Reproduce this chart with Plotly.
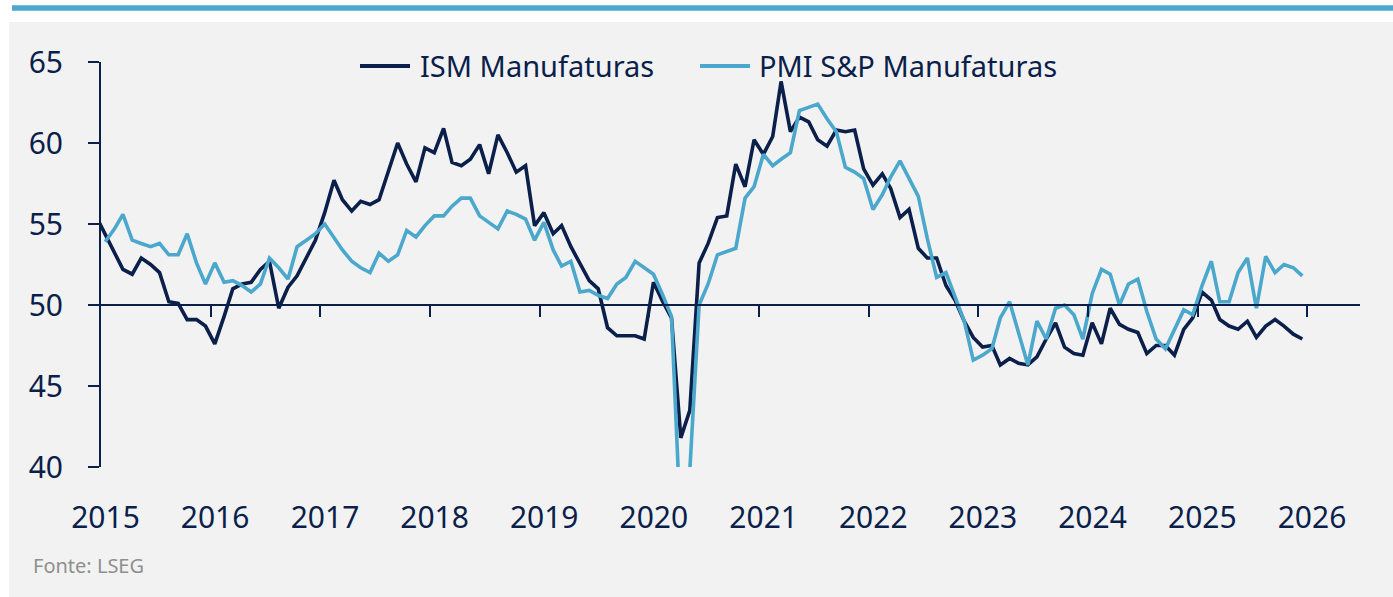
import pandas as pd
import plotly.graph_objects as go

# ISM Manufacturing PMI, monthly, Dec 2014 .. Dec 2025
ism_start = "2014-12-01"
ism_values = [
    55.5,
    54.4, 53.2, 52.2, 51.9, 52.9, 52.5, 52.0, 50.2, 50.1, 49.1, 49.1, 48.7,
    47.6, 49.3, 51.0, 51.3, 51.4, 52.2, 52.7, 49.8, 51.1, 51.8, 52.9, 54.0,
    55.7, 57.7, 56.5, 55.8, 56.4, 56.2, 56.5, 58.3, 60.0, 58.7, 57.6, 59.7,
    59.4, 60.9, 58.8, 58.6, 59.0, 59.9, 58.1, 60.5, 59.4, 58.2, 58.6, 54.9,
    55.7, 54.4, 54.9, 53.6, 52.6, 51.5, 51.0, 48.6, 48.1, 48.1, 48.1, 47.9,
    51.4, 50.2, 49.2, 41.8, 43.5, 52.6, 53.8, 55.4, 55.5, 58.7, 57.3, 60.2,
    59.3, 60.4, 63.8, 60.7, 61.6, 61.3, 60.2, 59.8, 60.8, 60.7, 60.8, 58.4,
    57.4, 58.1, 57.2, 55.4, 55.9, 53.5, 52.9, 52.9, 51.2, 50.3, 49.0, 48.0,
    47.4, 47.5, 46.3, 46.7, 46.4, 46.3, 46.8, 47.9, 48.9, 47.4, 47.0, 46.9,
    48.9, 47.6, 49.8, 48.8, 48.5, 48.3, 47.0, 47.5, 47.5, 46.9, 48.5, 49.2,
    50.8, 50.3, 49.1, 48.7, 48.5, 49.0, 48.0, 48.7, 49.1, 48.7, 48.2, 47.9,
]

# S&P Global US Manufacturing PMI, monthly, Jan 2015 .. Dec 2025
pmi_start = "2015-01-01"
pmi_values = [
    53.9, 54.7, 55.6, 54.0, 53.8, 53.6, 53.8, 53.1, 53.1, 54.4, 52.6, 51.3,
    52.6, 51.4, 51.5, 51.2, 50.8, 51.3, 52.9, 52.3, 51.6, 53.6, 54.0, 54.4,
    55.0, 54.2, 53.4, 52.7, 52.3, 52.0, 53.2, 52.7, 53.1, 54.6, 54.2, 54.9,
    55.5, 55.5, 56.1, 56.6, 56.6, 55.5, 55.1, 54.7, 55.8, 55.6, 55.3, 54.0,
    55.1, 53.4, 52.4, 52.7, 50.8, 50.9, 50.6, 50.4, 51.3, 51.7, 52.7, 52.3,
    51.9, 50.6, 49.3, 36.1, 39.8, 50.0, 51.3, 53.1, 53.3, 53.5, 56.6, 57.3,
    59.3, 58.6, 59.0, 59.4, 62.0, 62.2, 62.4, 61.5, 60.7, 58.5, 58.2, 57.8,
    55.9, 56.8, 57.9, 58.9, 57.8, 56.7, 54.1, 51.7, 52.0, 50.5, 49.0, 46.6,
    46.9, 47.3, 49.2, 50.2, 48.2, 46.3, 49.0, 47.9, 49.8, 50.0, 49.4, 47.9,
    50.7, 52.2, 51.9, 50.0, 51.3, 51.6, 49.6, 47.9, 47.3, 48.5, 49.7, 49.4,
    51.2, 52.7, 50.2, 50.2, 52.0, 52.9, 49.8, 53.0, 52.0, 52.5, 52.3, 51.8,
]

year_labels = [str(y) for y in range(2015, 2027)]
y_ticks = [40, 45, 50, 55, 60, 65]

series_names = ["ISM Manufaturas", "PMI S&P Manufaturas"]
source_text = "Fonte: LSEG"

NAVY = "#0b1f4b"
LIGHT = "#4ba8cc"
GREY_BG = "#f2f2f2"
FONT = "Noto Sans"

# values plotted at mid-month
ism_dates = pd.date_range(ism_start, periods=len(ism_values), freq="MS") + pd.Timedelta(days=14)
pmi_dates = pd.date_range(pmi_start, periods=len(pmi_values), freq="MS") + pd.Timedelta(days=14)

x_range = ["2015-01-01", "2026-06-25"]
label_pos = [f"{y}-01-16" for y in year_labels]
tick_pos = [f"{y}-01-01" for y in year_labels[1:]]

W, H = 1393, 597
ml, mr, mt, mb = 101, 33, 62, 130
pw, ph = W - ml - mr, H - mt - mb


def px(xp):
    return (xp - ml) / pw


def py(yp):
    return (H - mb - yp) / ph


fig = go.Figure()
colors = [NAVY, LIGHT]
for name, dates, vals, col in zip(series_names, [ism_dates, pmi_dates],
                                  [ism_values, pmi_values], colors):
    fig.add_trace(go.Scatter(x=dates, y=vals, mode="lines", name=name,
                             line=dict(color=col, width=3.6), xaxis="x", yaxis="y",
                             showlegend=False))
# invisible trace to carry the crossing axis at 50
fig.add_trace(go.Scatter(x=pmi_dates, y=pmi_values, mode="lines", showlegend=False,
                         line=dict(width=0), opacity=0, hoverinfo="skip",
                         xaxis="x2", yaxis="y"))

# legend drawn as line samples + text
legend_items = [(360, 410, 418), (700, 750, 757)]
shapes = [
    dict(type="rect", xref="paper", yref="paper", x0=px(9), x1=px(1400), y0=py(600), y1=py(22),
         fillcolor=GREY_BG, line=dict(width=0), layer="below"),
    dict(type="rect", xref="paper", yref="paper", x0=px(12), x1=px(1400), y0=py(10.7), y1=py(5.3),
         fillcolor=LIGHT, line=dict(width=0), layer="below"),
]
annotations = []
for (lx0, lx1, tx), name, col in zip(legend_items, series_names, colors):
    shapes.append(dict(type="line", xref="paper", yref="paper", x0=px(lx0), x1=px(lx1),
                       y0=py(66), y1=py(66), line=dict(color=col, width=4), layer="above"))
    annotations.append(dict(text=name, xref="paper", yref="paper", x=px(tx), y=py(66),
                            xanchor="left", yanchor="middle", showarrow=False,
                            font=dict(size=29, color=NAVY, family=FONT)))
annotations.append(dict(text=source_text, xref="paper", yref="paper", x=px(31), y=py(565),
                        xanchor="left", yanchor="middle", showarrow=False,
                        font=dict(size=20, color="#8f8f8f", family=FONT)))

fig.update_layout(
    width=W, height=H,
    margin=dict(l=ml, r=mr, t=mt, b=mb),
    paper_bgcolor="white",
    plot_bgcolor=GREY_BG,
    font=dict(family=FONT, color=NAVY, size=28),
    showlegend=False,
    xaxis=dict(type="date", range=x_range, showline=False, showgrid=False, zeroline=False,
               tickvals=label_pos, ticktext=year_labels, ticks="", tickfont=dict(size=30),
               ticklabelstandoff=30),
    xaxis2=dict(type="date", range=x_range, overlaying="x", anchor="free", position=0.4,
                showline=True, linecolor=NAVY, linewidth=2, showgrid=False, zeroline=False,
                tickvals=tick_pos, ticks="outside", ticklen=11, tickwidth=2, tickcolor=NAVY,
                showticklabels=False),
    yaxis=dict(range=[40, 65], tickvals=y_ticks, ticks="outside", ticklen=11, tickwidth=2,
               tickcolor=NAVY, showline=True, linecolor=NAVY, linewidth=2, showgrid=False,
               zeroline=False, tickfont=dict(size=30), ticklabelstandoff=19),
    shapes=shapes,
    annotations=annotations,
)

fig.write_html("out.html", config={"displayModeBar": False},
               post_script="document.body.style.margin='0px';")
